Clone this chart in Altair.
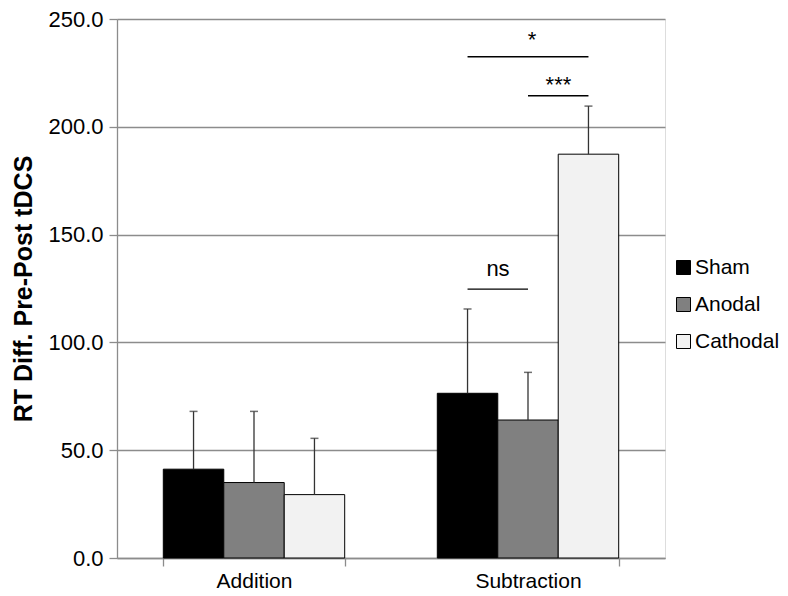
import altair as alt
import pandas as pd

# ---- data ----
groups = ["Addition", "Subtraction"]
conditions = ["Sham", "Anodal", "Cathodal"]
means_addition = [41.2, 35.0, 29.4]
means_subtraction = [76.4, 64.0, 187.3]
upper_addition = [68.0, 68.0, 55.5]
upper_subtraction = [115.5, 86.1, 209.6]

ann_labels = ["ns", "***", "*"]
ann_from = ["Sham", "Anodal", "Sham"]
ann_to = ["Anodal", "Cathodal", "Cathodal"]
ann_line_y = [124.7, 214.4, 232.5]
ann_text_y = [131.0, 216.0, 237.0]
ann_text_at = ["Anodal", "Cathodal", "Anodal"]

colors = ["#000000", "#808080", "#f2f2f2"]
FONT = "Liberation Sans"

rows = []
for g, means, ups in [("Addition", means_addition, upper_addition),
                      ("Subtraction", means_subtraction, upper_subtraction)]:
    for c, m, u in zip(conditions, means, ups):
        rows.append({"group": g, "cond": c, "mean": m, "upper": u})
df = pd.DataFrame(rows)

line_rows = []
for lab, a, b, y in zip(ann_labels, ann_from, ann_to, ann_line_y):
    line_rows.append({"group": "Subtraction", "cond": a, "y": y, "ann": lab})
    line_rows.append({"group": "Subtraction", "cond": b, "y": y, "ann": lab})
lines_df = pd.DataFrame(line_rows)

x_enc = alt.X("group:N", sort=groups,
              scale=alt.Scale(domain=groups, paddingInner=0.338, paddingOuter=0.169),
              axis=alt.Axis(title=None, labelAngle=0, labelFontSize=21, labelFont=FONT,
                            labelColor="black", labelPadding=4, tickBand="extent",
                            tickSize=8, tickColor="#8c8c8c", domainColor="#8c8c8c",
                            domainWidth=1.3, tickWidth=1.3, grid=False))
xo_enc = alt.XOffset("cond:N", sort=conditions,
                     scale=alt.Scale(domain=conditions, paddingInner=0, paddingOuter=0))
y_scale = alt.Scale(domain=[0, 250], nice=False)

bars = alt.Chart(df).mark_bar(stroke="black", strokeWidth=1).encode(
    x=x_enc,
    xOffset=xo_enc,
    y=alt.Y("mean:Q", scale=y_scale,
            axis=alt.Axis(title="RT Diff. Pre-Post tDCS", values=[0, 50, 100, 150, 200, 250],
                          format=".1f", labelFontSize=22, labelFont=FONT, labelColor="black",
                          titleFont=FONT, titleFontSize=25, titleFontWeight="bold",
                          titleColor="black", titlePadding=11, labelPadding=6,
                          tickSize=8, tickColor="#8c8c8c", domainColor="#8c8c8c",
                          domainWidth=1.3, tickWidth=1.3,
                          gridColor="#8c8c8c", gridWidth=1.3)),
    fill=alt.Fill("cond:N", sort=conditions,
                  scale=alt.Scale(domain=conditions, range=colors),
                  legend=alt.Legend(title=None, orient="none", legendX=556, legendY=238,
                                    symbolType="square", symbolSize=196,
                                    symbolStrokeColor="black", symbolStrokeWidth=1,
                                    labelFont=FONT, labelFontSize=21, labelColor="black",
                                    labelOffset=1, rowPadding=15, padding=0, labelLimit=200)),
)

err = alt.Chart(df).mark_rule(color="#333333", strokeWidth=1.3).encode(
    x=alt.X("group:N", sort=groups), xOffset=alt.XOffset("cond:N", sort=conditions),
    y="mean:Q", y2="upper:Q")

caps = alt.Chart(df).mark_tick(color="#333333", thickness=1.5, size=8, orient="horizontal").encode(
    x=alt.X("group:N", sort=groups), xOffset=alt.XOffset("cond:N", sort=conditions),
    y="upper:Q")

ann_lines = alt.Chart(lines_df).mark_line(color="black", strokeWidth=1.3).encode(
    x=alt.X("group:N", sort=groups), xOffset=alt.XOffset("cond:N", sort=conditions),
    y="y:Q", detail="ann:N")

shifts = {"ns": -30, "***": -30, "*": 4}
texts = []
for lab, at, ty in zip(ann_labels, ann_text_at, ann_text_y):
    tdf = pd.DataFrame([{"group": "Subtraction", "cond": at, "y": ty, "label": lab}])
    texts.append(alt.Chart(tdf).mark_text(font=FONT, fontSize=22, color="black",
                                          baseline="alphabetic", dx=shifts[lab]).encode(
        x=alt.X("group:N", sort=groups), xOffset=alt.XOffset("cond:N", sort=conditions),
        y="y:Q", text="label:N"))

chart = alt.layer(bars, err, caps, ann_lines, *texts).properties(
    width=548, height=539,
    autosize=alt.AutoSizeParams(type="none"),
    padding={"left": 109, "top": 11, "right": 115, "bottom": 32},
).configure_view(stroke=None).configure(background="white")

chart.save("out.html", embed_options={"renderer": "svg", "actions": False})
